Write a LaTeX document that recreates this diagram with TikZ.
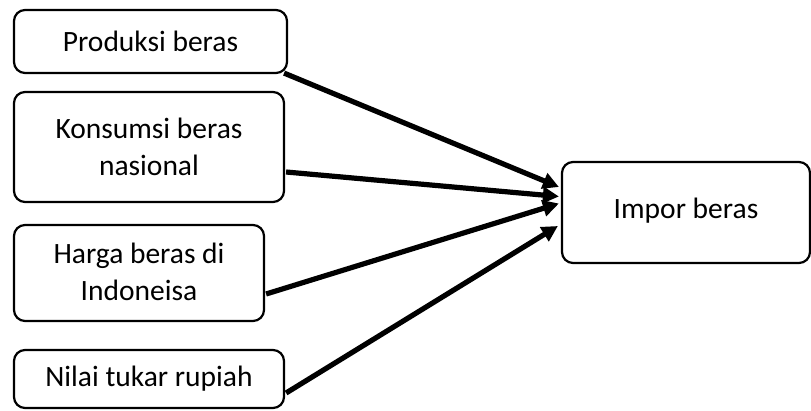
\documentclass[tikz,border=0pt]{standalone}
\usepackage{fontspec}
\setmainfont{Carlito}
\usetikzlibrary{arrows.meta,calc}
\tikzset{
  box/.style={draw=black, line width=2.2pt, rounded corners=11pt, rectangle, align=center,
    inner sep=0pt, font=\fontsize{29.5}{37}\selectfont},
  conn/.style={line width=5.2pt, -{Triangle[length=16pt,width=16pt]}}
}
\begin{document}
\begin{tikzpicture}[x=1pt,y=-1pt]
\useasboundingbox (0,0) rectangle (811,411);
\node[box, minimum width=273pt, minimum height=63pt] (p) at (150.5,41.5) {Produksi beras};
\node[box, minimum width=270pt, minimum height=110pt] (k) at (149,147) {Konsumsi beras\\nasional};
\node[box, minimum width=250pt, minimum height=96pt] (h) at (139,273) {\raisebox{3pt}{Harga beras di}\\\raisebox{3pt}{Indoneisa}};
\node[box, minimum width=270pt, minimum height=58pt] (n) at (149,379) {Nilai tukar rupiah};
\node[box, minimum width=248pt, minimum height=101pt] (imp) at (686,212.5) {\raisebox{9pt}{Impor beras}};
\draw[conn] ($(p.south east)+(-4,-1)$) -- ($(imp.west)+(-2,-25.5)$);
\draw[conn] ($(k.east)+(1,25)$) -- ($(imp.west)+(-2,-16)$);
\draw[conn] ($(h.east)+(1,21)$) -- ($(imp.west)+(-2,-9)$);
\draw[conn] ($(n.east)+(1,14)$) -- ($(imp.west)+(-3,13.5)$);
\end{tikzpicture}
\end{document}
